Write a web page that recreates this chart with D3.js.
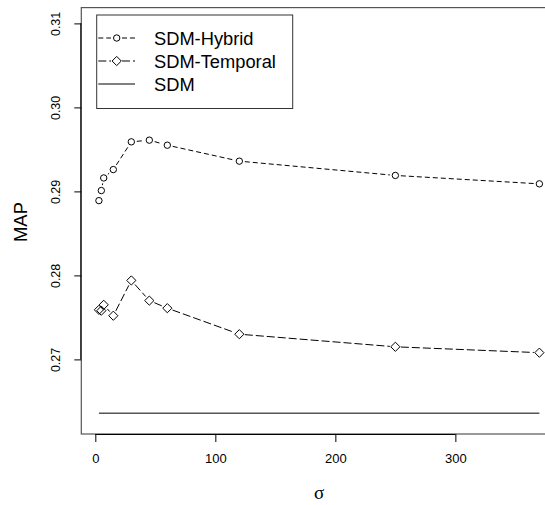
<!DOCTYPE html>
<html>
<head>
<meta charset="utf-8">
<script src="https://cdn.jsdelivr.net/npm/d3@7"></script>
<style>
  body { margin: 0; background: #fff; }
  text { font-family: "Liberation Sans", Arial, sans-serif; }
</style>
</head>
<body>
<div id="chart"></div>
<script>
// data
var sigma = [3, 5, 7, 15, 30, 45, 60, 120, 250, 370];
var hybrid = [0.2889, 0.2901, 0.2916, 0.2926, 0.2959, 0.2961, 0.2955, 0.2936, 0.2919, 0.2909];
var temporal = [0.2759, 0.2758, 0.2765, 0.2752, 0.2794, 0.2770, 0.2761, 0.2730, 0.2715, 0.2708];
var sdm = 0.2636;
var xTicks = [0, 100, 200, 300];
var yTicks = [0.27, 0.28, 0.29, 0.30, 0.31];
var seriesNames = ["SDM-Hybrid", "SDM-Temporal", "SDM"];

var width = 545, height = 505;

var svg = d3.select("#chart").append("svg")
    .attr("width", width)
    .attr("height", height);

// R style 4% padding round the data range
var xlim = [3, 370], ylim = [0.263, 0.31];
var xp = (xlim[1] - xlim[0]) * 0.04, yp = (ylim[1] - ylim[0]) * 0.04;

var x = d3.scaleLinear()
    .domain([xlim[0] - xp, xlim[1] + xp])
    .range([81.3, 557]);
var y = d3.scaleLinear()
    .domain([ylim[0] - yp, ylim[1] + yp])
    .range([434, 7.6]);

// plot box (runs off the right edge like the original)
svg.append("rect")
    .attr("x", x.range()[0])
    .attr("y", y.range()[1])
    .attr("width", x.range()[1] - x.range()[0])
    .attr("height", y.range()[0] - y.range()[1])
    .attr("fill", "none")
    .attr("stroke", "#555")
    .attr("stroke-width", 1.2);

// axes
var xAxis = d3.axisBottom(x).tickValues(xTicks).tickSize(8).tickPadding(12).tickFormat(d3.format("d"));
var gx = svg.append("g")
    .attr("transform", "translate(0,434)")
    .call(xAxis);
gx.select(".domain").attr("d", "M" + x(xTicks[0]) + ",0.5H" + x(xTicks[xTicks.length - 1]));
gx.selectAll("text").attr("font-size", 13).attr("font-family", "Liberation Sans, Arial, sans-serif").attr("fill", "#000");

var yAxis = d3.axisLeft(y).tickValues(yTicks).tickSize(7).tickFormat(d3.format(".2f"));
var gy = svg.append("g")
    .attr("transform", "translate(81.3,0)")
    .call(yAxis);
gy.select(".domain").attr("d", "M-0.5," + y(yTicks[0]) + "V" + y(yTicks[yTicks.length - 1]));
gy.selectAll(".tick text")
    .attr("font-size", 12.5)
    .attr("font-family", "Liberation Sans, Arial, sans-serif")
    .attr("fill", "#000")
    .attr("x", null).attr("dy", null)
    .attr("text-anchor", "middle")
    .attr("transform", "translate(-21,0) rotate(-90)");

// axis titles
svg.append("text")
    .attr("transform", "translate(27,222) rotate(-90)")
    .attr("text-anchor", "middle")
    .attr("font-size", 18.5)
    .text("MAP");

svg.append("text")
    .attr("x", 319)
    .attr("y", 499)
    .attr("text-anchor", "middle")
    .style("font-family", "'Liberation Serif', 'DejaVu Serif', serif")
    .attr("font-size", 19)
    .text("σ");

// type = "b": segments with gaps round the points
function gappedSegments(vals, gap) {
    var segs = [];
    for (var i = 0; i < vals.length - 1; i++) {
        var x1 = x(sigma[i]), y1 = y(vals[i]), x2 = x(sigma[i + 1]), y2 = y(vals[i + 1]);
        var len = Math.hypot(x2 - x1, y2 - y1);
        if (len <= 2 * gap) continue;
        var ux = (x2 - x1) / len, uy = (y2 - y1) / len;
        segs.push([x1 + ux * gap, y1 + uy * gap, x2 - ux * gap, y2 - uy * gap]);
    }
    return segs;
}

function drawSeries(vals, dash, shape) {
    var g = svg.append("g");
    g.selectAll("line")
        .data(gappedSegments(vals, 5.5))
        .enter().append("line")
        .attr("x1", d => d[0]).attr("y1", d => d[1])
        .attr("x2", d => d[2]).attr("y2", d => d[3])
        .attr("stroke", "#000")
        .attr("stroke-width", 1)
        .attr("stroke-dasharray", dash);
    g.selectAll("path")
        .data(vals)
        .enter().append("path")
        .attr("transform", (d, i) => "translate(" + x(sigma[i]) + "," + y(d) + ")")
        .attr("d", shape)
        .attr("fill", "none")
        .attr("stroke", "#000")
        .attr("stroke-width", 1);
}

var circle = d3.symbol().type(d3.symbolCircle).size(Math.PI * 3.2 * 3.2)();
var diamond = "M0,-4.6L4.6,0L0,4.6L-4.6,0Z";

drawSeries(hybrid, "5,3", circle);
drawSeries(temporal, "8,3", diamond);

// SDM baseline
svg.append("line")
    .attr("x1", x(sigma[0])).attr("x2", x(sigma[sigma.length - 1]))
    .attr("y1", y(sdm)).attr("y2", y(sdm))
    .attr("stroke", "#000")
    .attr("stroke-width", 1);

// legend
var legend = svg.append("g");
legend.append("rect")
    .attr("x", 96.7).attr("y", 15)
    .attr("width", 196).attr("height", 93.5)
    .attr("fill", "#fff")
    .attr("stroke", "#333")
    .attr("stroke-width", 1);

var legDash = ["5,3", "8,3", null];
var legShape = [circle, diamond, null];
seriesNames.forEach(function (name, i) {
    var ly = 38 + i * 23;
    var row = legend.append("g").attr("transform", "translate(0," + ly + ")");
    if (legShape[i]) {
        row.append("line").attr("x1", 98.3).attr("x2", 111).attr("y1", 0).attr("y2", 0)
            .attr("stroke", "#000").attr("stroke-dasharray", legDash[i]);
        row.append("line").attr("x1", 122).attr("x2", 135).attr("y1", 0).attr("y2", 0)
            .attr("stroke", "#000").attr("stroke-dasharray", legDash[i]);
        row.append("path").attr("transform", "translate(116.7,0)")
            .attr("d", legShape[i]).attr("fill", "none").attr("stroke", "#000");
    } else {
        row.append("line").attr("x1", 98.3).attr("x2", 135).attr("y1", 0).attr("y2", 0)
            .attr("stroke", "#000");
    }
    row.append("text")
        .attr("x", 154)
        .attr("y", 6.5)
        .attr("font-size", 18.3)
        .text(name);
});
</script>
</body>
</html>
